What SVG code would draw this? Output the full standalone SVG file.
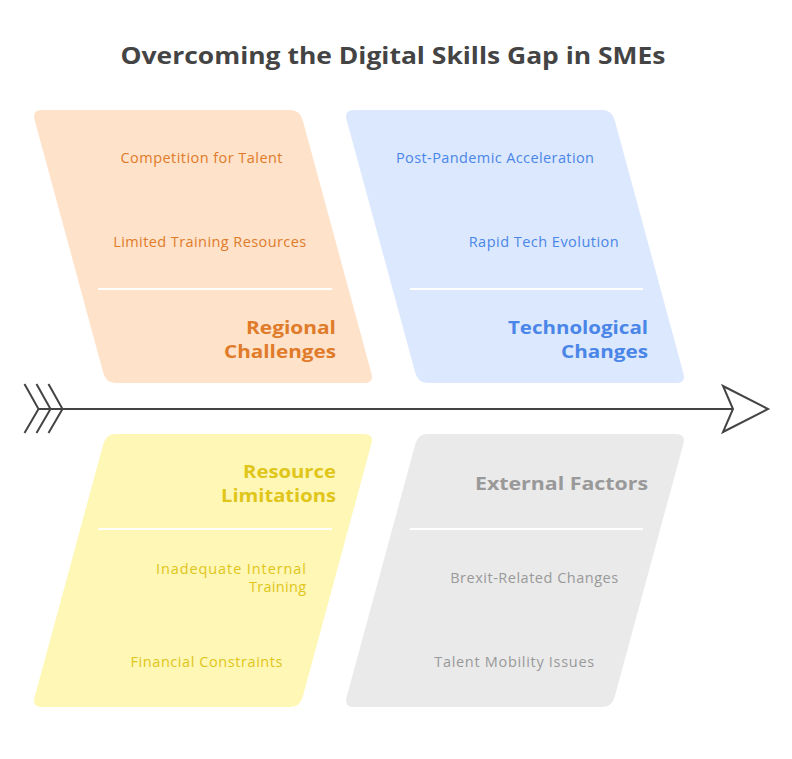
<svg xmlns="http://www.w3.org/2000/svg" width="792" height="759" viewBox="0 0 792 759">
<style>
text{font-family:"Open Sans","DejaVu Sans",sans-serif}
.title{font-size:23px;font-weight:700;fill:#444444}
.h{font-size:17px;font-weight:700;text-anchor:end}
.s{font-size:14.5px;text-anchor:middle}
.se{font-size:14.5px;text-anchor:end}
.div{stroke:#ffffff;stroke-width:2}
.o{fill:#e07b2a}.b{fill:#4a86e8}.y{fill:#e0c51a}.g{fill:#999999}
.ax{stroke:#444444;stroke-width:2;fill:none;stroke-linejoin:miter}
</style>
<rect width="792" height="759" fill="#ffffff"/>
<text class="title" x="393" y="64" text-anchor="middle" textLength="545" lengthAdjust="spacingAndGlyphs">Overcoming the Digital Skills Gap in SMEs</text>

<g id="connectors">
<line class="ax" x1="38" y1="409" x2="733" y2="409"/>
<polyline class="ax" points="24.5,384 38.5,409 24.5,433"/>
<polyline class="ax" points="36.5,384 50.5,409 36.5,433"/>
<polyline class="ax" points="48.5,384 62.5,409 48.5,433"/>
<polygon class="ax" fill="#ffffff" points="723,386 768,409 723,432 733,409"/>
</g>

<g id="regional-challenges">
<path fill="#fee2c9" d="M42,110 L290,110 Q300,110 302.6,119.7 L371.4,373.3 Q374,383 364,383 L116,383 Q106,383 103.4,373.3 L34.6,119.7 Q32,110 42,110 Z"/>
<line class="div" x1="98" y1="289" x2="332" y2="289"/>
<text class="s o" x="201.5" y="163" textLength="162">Competition for Talent</text>
<text class="s o" x="209.7" y="247" textLength="193">Limited Training Resources</text>
<text class="h o" x="336" y="334" textLength="90" lengthAdjust="spacingAndGlyphs">Regional</text>
<text class="h o" x="336" y="358" textLength="112" lengthAdjust="spacingAndGlyphs">Challenges</text>
</g>

<g id="technological-changes">
<path fill="#dce8fd" d="M354,110 L602,110 Q612,110 614.6,119.7 L683.4,373.3 Q686,383 676,383 L428,383 Q418,383 415.4,373.3 L346.6,119.7 Q344,110 354,110 Z"/>
<line class="div" x1="410" y1="289" x2="643" y2="289"/>
<text class="s b" x="495" y="163" textLength="198">Post-Pandemic Acceleration</text>
<text class="s b" x="543.7" y="247" textLength="150">Rapid Tech Evolution</text>
<text class="h b" x="648" y="334" textLength="140" lengthAdjust="spacingAndGlyphs">Technological</text>
<text class="h b" x="648" y="358" textLength="87" lengthAdjust="spacingAndGlyphs">Changes</text>
</g>

<g id="resource-limitations">
<path fill="#fff7b5" d="M116,434 L364,434 Q374,434 371.4,443.7 L302.6,697.3 Q300,707 290,707 L42,707 Q32,707 34.6,697.3 L103.4,443.7 Q106,434 116,434 Z"/>
<line class="div" x1="98" y1="529" x2="332" y2="529"/>
<text class="h y" x="336" y="477.5" textLength="93" lengthAdjust="spacingAndGlyphs">Resource</text>
<text class="h y" x="336" y="501.5" textLength="115" lengthAdjust="spacingAndGlyphs">Limitations</text>
<text class="se y" x="306" y="574" textLength="150">Inadequate Internal</text>
<text class="se y" x="306" y="592" textLength="57">Training</text>
<text class="s y" x="206.5" y="666.5" textLength="152">Financial Constraints</text>
</g>

<g id="external-factors">
<path fill="#eaeaea" d="M428,434 L676,434 Q686,434 683.4,443.7 L614.6,697.3 Q612,707 602,707 L354,707 Q344,707 346.6,697.3 L415.4,443.7 Q418,434 428,434 Z"/>
<line class="div" x1="410" y1="529" x2="643" y2="529"/>
<text class="h g" x="648" y="490" textLength="173" lengthAdjust="spacingAndGlyphs">External Factors</text>
<text class="s g" x="534.2" y="582.5" textLength="168">Brexit-Related Changes</text>
<text class="s g" x="514.2" y="666.5" textLength="160">Talent Mobility Issues</text>
</g>
</svg>
